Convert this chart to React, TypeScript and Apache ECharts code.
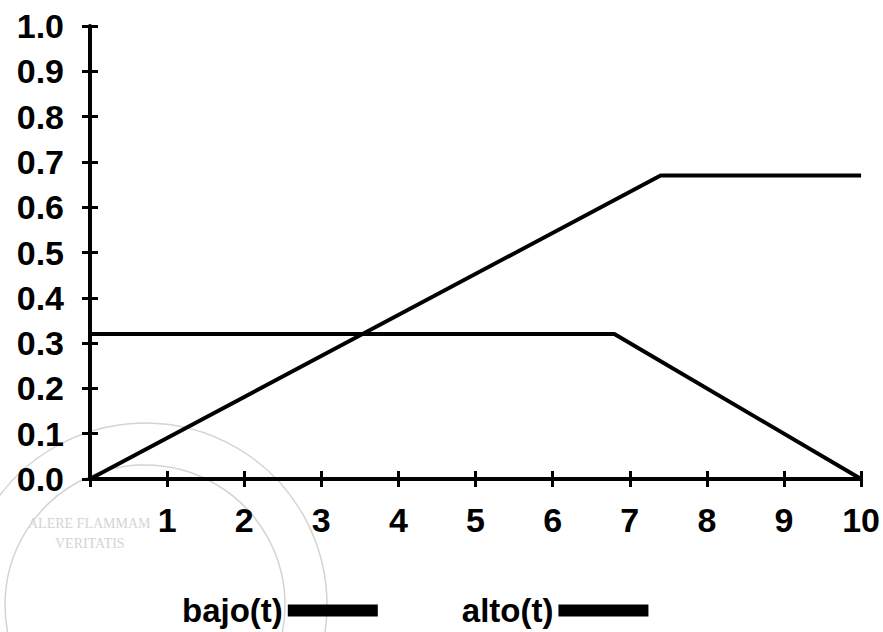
import React, { useEffect, useRef } from "react";
import * as echarts from "echarts";

const seriesNames = ["bajo(t)", "alto(t)"];
const bajoT = [0, 6.8, 10];
const bajoV = [0.32, 0.32, 0];
const altoT = [0, 7.4, 10];
const altoV = [0, 0.67, 0.67];
const xTickLabels = ["", "1", "2", "3", "4", "5", "6", "7", "8", "9", "10"];
const yTickLabels = ["0.0", "0.1", "0.2", "0.3", "0.4", "0.5", "0.6", "0.7", "0.8", "0.9", "1.0"];

const FONT = "'Liberation Sans', Arial, sans-serif";

export default function App() {
  const ref = useRef<HTMLDivElement>(null);
  useEffect(() => {
    if (!ref.current) return;
    const chart = echarts.init(ref.current, undefined, { renderer: "svg" });
    const pair = (ts: number[], vs: number[]) => ts.map((t, i) => [t, vs[i]]);
    const wm = "#d4d4d4";
    chart.setOption({
      animation: false,
      backgroundColor: "#fff",
      grid: { left: 90, right: 20, top: 26, bottom: 153 },
      legend: {
        data: seriesNames,
        left: 177,
        top: 589,
        align: "right",
        icon: "rect",
        itemWidth: 90,
        itemHeight: 12,
        itemGap: 84,
        textStyle: { fontSize: 33, fontWeight: "bold", color: "#000", fontFamily: FONT },
      },
      graphic: [
        { type: "circle", z: -10, silent: true, shape: { cx: 145, cy: 605, r: 182 }, style: { fill: "none", stroke: wm, lineWidth: 1.5 } },
        { type: "circle", z: -10, silent: true, shape: { cx: 145, cy: 605, r: 140 }, style: { fill: "none", stroke: wm, lineWidth: 1.5 } },
        { type: "text", z: -10, silent: true, left: 28, top: 516, style: { text: "ALERE FLAMMAM", font: "14px 'Liberation Serif', serif", fill: wm } },
        { type: "text", z: -10, silent: true, left: 55, top: 536, style: { text: "VERITATIS", font: "14px 'Liberation Serif', serif", fill: wm } },
      ],
      xAxis: [
        {
          type: "value",
          min: 0,
          max: 10,
          interval: 1,
          axisLine: { show: true, lineStyle: { color: "#000", width: 4 } },
          axisTick: { show: true, length: 8, lineStyle: { color: "#000", width: 3 } },
          splitLine: { show: false },
          axisLabel: {
            margin: 24,
            fontSize: 34,
            fontWeight: "bold",
            color: "#000",
            fontFamily: FONT,
            formatter: (v: number) => xTickLabels[Math.round(v)] ?? "",
          },
        },
        {
          type: "value",
          position: "bottom",
          min: 0,
          max: 10,
          interval: 1,
          axisLine: { show: false },
          axisTick: { show: true, inside: true, length: 8, lineStyle: { color: "#000", width: 3 } },
          axisLabel: { show: false },
          splitLine: { show: false },
        },
      ],
      yAxis: [
        {
          type: "value",
          min: 0,
          max: 1,
          interval: 0.1,
          axisLine: { show: true, lineStyle: { color: "#000", width: 4 } },
          axisTick: { show: true, length: 8, lineStyle: { color: "#000", width: 3 } },
          splitLine: { show: false },
          axisLabel: {
            margin: 26,
            fontSize: 34,
            fontWeight: "bold",
            color: "#000",
            fontFamily: FONT,
            formatter: (v: number) => yTickLabels[Math.round(v * 10)] ?? "",
          },
        },
        {
          type: "value",
          position: "left",
          min: 0,
          max: 1,
          interval: 0.1,
          axisLine: { show: false },
          axisTick: { show: true, inside: true, length: 8, lineStyle: { color: "#000", width: 3 } },
          axisLabel: { show: false },
          splitLine: { show: false },
        },
      ],
      series: [
        {
          name: seriesNames[0],
          type: "line",
          symbol: "none",
          color: "#000",
          lineStyle: { color: "#000", width: 4 },
          data: pair(bajoT, bajoV),
        },
        {
          name: seriesNames[1],
          type: "line",
          symbol: "none",
          color: "#000",
          lineStyle: { color: "#000", width: 4 },
          data: pair(altoT, altoV),
        },
      ],
    });
    return () => chart.dispose();
  }, []);
  return <div ref={ref} style={{ position: "fixed", left: 0, top: 0, width: 883, height: 632 }} />;
}
